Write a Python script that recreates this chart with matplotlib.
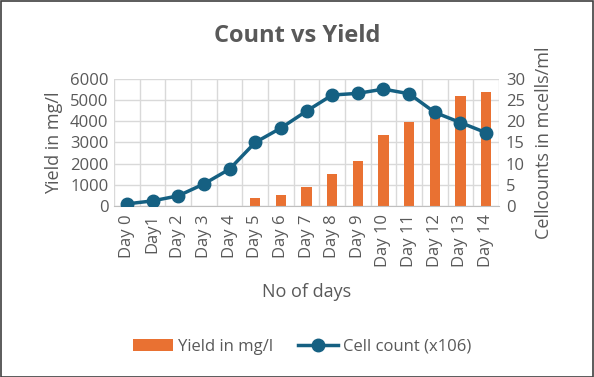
import matplotlib
matplotlib.use("Agg")
import matplotlib.pyplot as plt
from matplotlib.patches import Rectangle

plt.rcParams['font.family'] = ['Open Sans', 'DejaVu Sans']

days = ["Day 0", "Day1", "Day 2", "Day 3", "Day 4", "Day 5", "Day 6", "Day 7",
        "Day 8", "Day 9", "Day 10", "Day 11", "Day 12", "Day 13", "Day 14"]
yield_mg = [0, 0, 0, 0, 0, 370, 530, 900, 1500, 2130, 3350, 3950, 4420, 5180, 5370]
cell_count = [0.5, 1.2, 2.4, 5.2, 8.7, 15.0, 18.4, 22.4, 26.2, 26.6, 27.6, 26.5, 22.1, 19.7, 17.3]

txt = '#595959'
grid = '#d9d9d9'
orange = '#E97132'
blue = '#156082'

fig = plt.figure(figsize=(5.94, 3.77), dpi=100)
fig.patches.append(Rectangle((0.001, 0.001), 0.997, 0.996, transform=fig.transFigure,
                             fill=False, edgecolor='#404040', linewidth=1.2, zorder=10))

ax = fig.add_axes([0.192, 0.4536, 0.648, 0.337])
x = list(range(len(days)))
ax.bar(x, yield_mg, width=0.4, color=orange, zorder=2, label='Yield in mg/l')
ax.set_xlim(-0.5, len(days) - 0.5)
ax.set_ylim(0, 6000)
ax.set_yticks(range(0, 6001, 1000))
ax.set_xticks(x)
ax.set_xticklabels(days, rotation=90, fontsize=12, color=txt)
ax.tick_params(axis='y', labelsize=12, colors=txt, length=0, pad=4)
ax.tick_params(axis='x', length=0, pad=6)
ax.set_xticks([i - 0.5 for i in range(len(days) + 1)], minor=True)
ax.tick_params(axis='x', which='minor', length=0)
ax.grid(True, which='minor', axis='x', color=grid, linewidth=1, zorder=0)
ax.grid(True, which='major', axis='y', color=grid, linewidth=1, zorder=0)
ax.set_axisbelow(True)
for s in ax.spines.values():
    s.set_visible(False)
ax.spines['bottom'].set_visible(True)
ax.spines['bottom'].set_color('#bfbfbf')
ax.set_ylabel('Yield in mg/l', fontsize=13, color=txt, labelpad=5)
ax.set_xlabel('No of days', fontsize=13, color=txt, labelpad=11)

ax2 = ax.twinx()
ax2.plot(x, cell_count, color=blue, linewidth=2.5, marker='o', markersize=9,
         zorder=3, label='Cell count (x106)')
ax2.set_ylim(0, 30)
ax2.set_yticks(range(0, 31, 5))
ax2.tick_params(axis='y', labelsize=12, colors=txt, length=0, pad=5)
for s in ax2.spines.values():
    s.set_visible(False)
ax2.set_ylabel('Cellcounts in mcells/ml', fontsize=13, color=txt, labelpad=7)

fig.text(0.5, 0.905, 'Count vs Yield', ha='center', va='center', fontsize=17,
         fontweight='bold', color=txt)

h1, l1 = ax.get_legend_handles_labels()
h2, l2 = ax2.get_legend_handles_labels()
fig.legend(h1 + h2, l1 + l2, loc='center', bbox_to_anchor=(0.508, 0.08), ncol=2,
           frameon=False, fontsize=12, labelcolor=txt, handlelength=2.4,
           columnspacing=1.5, handletextpad=0.3)

fig.savefig('out.png', dpi=100)
